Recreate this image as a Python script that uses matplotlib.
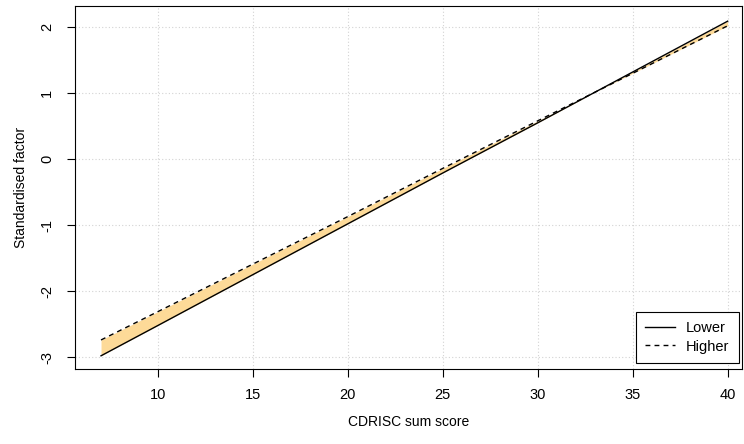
import matplotlib.pyplot as plt
import numpy as np

plt.rcParams['font.family'] = ['Liberation Sans', 'DejaVu Sans']

# CDRISC sum score and standardised factor for the two groups
score = [7, 10, 15, 20, 25, 30, 35, 40]
lower = [-2.98, -2.52, -1.75, -0.98, -0.21, 0.55, 1.32, 2.09]
higher = [-2.74, -2.31, -1.59, -0.87, -0.14, 0.58, 1.30, 2.02]

x_ticks = [10, 15, 20, 25, 30, 35, 40]
y_ticks = [-3, -2, -1, 0, 1, 2]

fig = plt.figure(figsize=(7.44, 4.44), dpi=100)
ax = fig.add_axes([75 / 744, 75 / 444, (741.7 - 75) / 744, (369 - 6) / 444])

# grid like R's grid()
for xv in x_ticks:
    ax.axvline(xv, color='#D3D3D3', linestyle=(0, (1, 2)), linewidth=0.8, zorder=0)
for yv in y_ticks:
    ax.axhline(yv, color='#D3D3D3', linestyle=(0, (1, 2)), linewidth=0.8, zorder=0)

ax.fill_between(score, lower, higher, color='#FDDA98', linewidth=0, zorder=1)
ax.plot(score, lower, color='black', linewidth=1, label='Lower', zorder=2)
ax.plot(score, higher, color='black', linewidth=1, linestyle=(0, (3.5, 3)), label='Higher', zorder=2)

ax.set_xlim(5.63, 40.74)
ax.set_ylim(-3.18, 2.32)
ax.set_xticks(x_ticks)
ax.set_yticks(y_ticks)
ax.set_yticklabels([str(v) for v in y_ticks], rotation=90, va='center')
ax.tick_params(direction='out', length=6, width=0.8, labelsize=10.5)
ax.tick_params(axis='x', pad=8)
ax.tick_params(axis='y', pad=9)

for s in ax.spines.values():
    s.set_linewidth(0.8)
    s.set_color('black')

ax.set_xlabel('CDRISC sum score', fontsize=10, labelpad=9)
ax.set_ylabel('Standardised factor', fontsize=10, labelpad=9)

leg = ax.legend(loc='lower right', bbox_to_anchor=(0.996, 0.0165), fancybox=False,
                edgecolor='black', framealpha=1, fontsize=10.5, handlelength=2.0,
                borderpad=0.65, labelspacing=0.3, handletextpad=0.8, borderaxespad=0)
leg.get_frame().set_linewidth(0.8)

fig.savefig('out.png', dpi=100)
